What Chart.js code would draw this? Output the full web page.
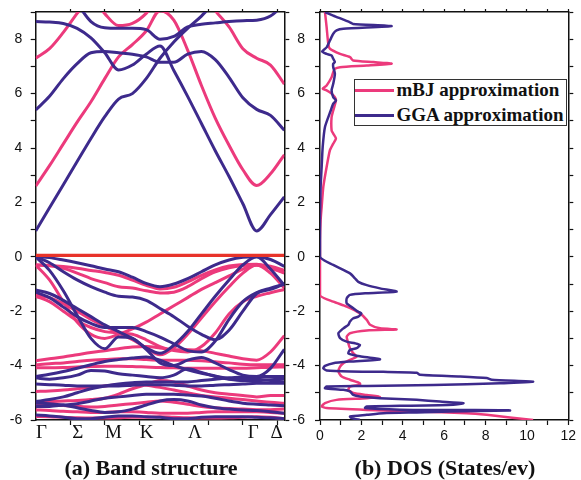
<!DOCTYPE html>
<html>
<head>
<meta charset="utf-8">
<title>Band structure and DOS</title>
<script src="https://cdn.jsdelivr.net/npm/chart.js@4.4.1/dist/chart.umd.min.js"></script>
<style>
  body { margin: 0; background: #fff; }
  #wrap { position: relative; width: 581px; height: 480px; overflow: hidden; background: #fff; }
  canvas { position: absolute; top: 0; }
  #bandCanvas { left: 0; }
  #dosCanvas { left: 290px; }
  .caption { position: absolute; top: 455px; font: bold 22px "Liberation Serif", "Times New Roman", serif;
             color: #111; text-align: center; white-space: nowrap; }
  #legend { position: absolute; left: 354px; top: 79px; width: 211px; height: 45px;
            border: 1.5px solid #333; background: #fff; z-index: 2; }
  #legend .row { position: absolute; left: 0; height: 24px; line-height: 24px; white-space: nowrap;
                 font: bold 19px "Liberation Serif", "Times New Roman", serif; color: #111; }
  #legend .swatch { position: absolute; left: 0; top: 10.5px; width: 39px; height: 3px; }
  #legend .txt { position: absolute; left: 41.5px; top: 0; }
</style>
</head>
<body>
<div id="wrap">
  <canvas id="bandCanvas" width="290" height="480"></canvas>
  <canvas id="dosCanvas" width="291" height="480"></canvas>
  <div class="caption" style="left:1px;width:300px;">(a) Band structure</div>
  <div class="caption" style="left:345px;width:200px;">(b) DOS (States/ev)</div>
  <div id="legend">
    <div class="row" style="top:-1.5px;"><span class="swatch" style="background:#ec3a7c"></span><span class="txt">mBJ approximation</span></div>
    <div class="row" style="top:23.5px;"><span class="swatch" style="background:#3d2a8c"></span><span class="txt">GGA approximation</span></div>
  </div>
</div>
<script>
// k path sampling (arbitrary path units) and the symmetry points
var kPath = [0, 0.4, 0.8, 1.2, 1.6, 2.0, 2.4, 2.8, 3.2, 3.6, 4.0, 4.4, 4.8, 5.2, 5.6, 6.0, 6.4, 6.8, 7.2];
var kTicks = [1, 2, 3, 4, 5, 6, 7];
var symLabels = ['Γ', 'Σ', 'M', 'K', 'Λ', 'Γ', 'Δ'];
var symPos = [0.17, 1.22, 2.25, 3.21, 4.61, 6.30, 6.98];

var fermiLevel = 0.05;

// GGA bands (eV), one value per kPath point
var ggaBands = [
  [0.95, 1.8, 2.65, 3.5, 4.35, 5.15, 5.8, 6.0, 6.55, 7.3, 7.9, 8.4, 8.85, 9.4, 10.0, 10.5, 11.0, 11.0, 11.0],
  [8.65, 8.63, 8.58, 8.4, 8.05, 7.5, 6.87, 7.05, 7.45, 7.75, 6.85, 5.9, 4.9, 3.9, 2.95, 1.95, 0.95, 1.55, 2.2],
  [5.4, 5.9, 6.55, 7.1, 7.5, 7.55, 7.5, 7.45, 7.35, 7.15, 7.15, 7.45, 7.55, 7.25, 6.6, 5.85, 5.42, 5.2, 4.65],
  [10.0, 10.0, 9.8, 9.3, 8.65, 8.42, 8.4, 8.4, 8.35, 8.0, 8.1, 8.45, 8.55, 8.6, 8.65, 8.68, 8.7, 8.85, 9.3],
  [0.02, -0.03, -0.12, -0.22, -0.33, -0.45, -0.55, -0.75, -0.98, -1.1, -1.0, -0.8, -0.55, -0.3, -0.12, -0.02, 0.0, -0.1, -0.35],
  [0.0, -0.22, -0.55, -0.85, -1.1, -1.3, -1.45, -1.48, -1.6, -1.9, -2.2, -2.55, -2.85, -3.05, -2.7, -2.0, -1.35, -1.2, -1.0],
  [0.0, -0.5, -1.25, -2.15, -3.0, -3.38, -2.95, -3.0, -3.4, -3.9, -4.0, -3.8, -3.7, -3.9, -4.15, -4.35, -4.4, -4.1, -3.4],
  [-1.22, -1.35, -1.6, -1.9, -2.2, -2.5, -2.75, -3.0, -3.35, -3.55, -3.25, -2.75, -2.1, -1.45, -0.85, -0.3, 0.0, -0.45, -1.05],
  [-1.3, -1.5, -1.85, -2.2, -2.45, -2.6, -2.6, -2.6, -2.75, -2.95, -3.2, -3.45, -3.5, -3.1, -2.3, -1.65, -1.32, -1.15, -1.0],
  [-4.4, -4.32, -4.22, -4.1, -3.97, -3.85, -3.78, -3.72, -3.68, -3.8, -4.0, -4.15, -4.28, -4.38, -4.48, -4.5, -4.5, -4.55, -4.6],
  [-4.45, -4.5, -4.45, -4.35, -4.18, -4.2, -4.3, -4.35, -4.4, -4.45, -4.35, -4.12, -4.25, -4.4, -4.5, -4.55, -4.55, -4.52, -4.48],
  [-5.32, -5.25, -5.15, -5.0, -4.85, -4.75, -4.68, -4.63, -4.6, -4.6, -4.6, -4.6, -4.55, -4.5, -4.45, -4.42, -4.4, -4.4, -4.4],
  [-4.68, -4.7, -4.72, -4.75, -4.75, -4.75, -4.75, -4.72, -4.7, -4.7, -4.72, -4.75, -4.75, -4.72, -4.7, -4.68, -4.65, -4.65, -4.65],
  [-5.38, -5.4, -5.45, -5.55, -5.65, -5.72, -5.7, -5.6, -5.45, -5.3, -5.25, -5.3, -5.45, -5.55, -5.6, -5.63, -5.65, -5.7, -5.75],
  [-5.5, -5.5, -5.45, -5.4, -5.3, -5.2, -5.15, -5.1, -5.05, -5.05, -5.05, -5.08, -5.12, -5.2, -5.3, -5.38, -5.42, -5.45, -5.48],
  [-5.82, -5.85, -5.9, -5.95, -5.95, -5.9, -5.85, -5.85, -5.88, -5.9, -5.95, -5.95, -5.9, -5.88, -5.88, -5.88, -5.9, -5.92, -5.95]
];

// mBJ bands (eV)
var mbjBands = [
  [2.6, 3.35, 4.15, 4.95, 5.7, 6.55, 7.35, 7.8, 8.3, 9.05, 8.7, 7.6, 6.3, 5.1, 4.1, 3.2, 2.62, 3.05, 3.75],
  [7.3, 7.65, 8.25, 8.95, 9.6, 10.2, 10.5, 10.5, 10.5, 10.5, 10.5, 10.3, 9.8, 9.05, 8.45, 7.65, 7.3, 7.05, 6.35],
  [11.0, 11.0, 10.5, 10.0, 9.6, 8.94, 8.5, 8.58, 8.95, 9.6, 10.2, 11.0, 11.0, 11.0, 11.0, 11.0, 11.0, 11.0, 11.0],
  [-0.3, -0.33, -0.42, -0.6, -0.8, -0.95, -1.1, -1.15, -1.25, -1.33, -1.3, -1.1, -0.8, -0.55, -0.4, -0.32, -0.3, -0.35, -0.5],
  [-0.3, -0.32, -0.36, -0.42, -0.5, -0.58, -0.68, -0.86, -1.05, -1.18, -1.12, -0.92, -0.68, -0.48, -0.34, -0.28, -0.27, -0.4, -0.58],
  [-0.3, -0.85, -1.65, -2.4, -2.85, -3.0, -2.85, -2.65, -2.4, -2.1, -1.8, -1.5, -1.2, -0.95, -0.7, -0.45, -0.3, -0.42, -0.6],
  [-1.4, -1.5, -1.72, -2.0, -2.3, -2.55, -2.8, -3.05, -3.35, -3.6, -3.35, -2.85, -2.25, -1.65, -1.1, -0.6, -0.3, -0.6, -1.15],
  [-1.45, -1.65, -2.0, -2.35, -2.6, -2.75, -2.8, -2.85, -3.05, -3.3, -3.45, -3.5, -3.3, -2.8, -2.1, -1.65, -1.45, -1.32, -1.2],
  [-3.82, -3.75, -3.68, -3.6, -3.52, -3.45, -3.38, -3.32, -3.3, -3.35, -3.42, -3.42, -3.45, -3.55, -3.65, -3.75, -3.8, -3.5, -2.9],
  [-3.97, -3.93, -3.9, -3.85, -3.8, -3.78, -3.75, -3.75, -3.78, -3.8, -3.8, -3.8, -3.82, -3.86, -3.9, -3.95, -3.97, -3.97, -3.97],
  [-4.08, -4.08, -4.07, -4.05, -4.03, -4.02, -4.02, -4.03, -4.05, -4.07, -4.08, -4.1, -4.1, -4.1, -4.1, -4.1, -4.08, -4.06, -4.05],
  [-4.95, -4.93, -4.9, -4.85, -4.8, -4.75, -4.7, -4.68, -4.72, -4.8, -4.9, -5.0, -5.1, -5.15, -5.2, -5.25, -5.3, -5.35, -5.38],
  [-5.32, -5.32, -5.3, -5.28, -5.25, -5.2, -5.05, -4.85, -4.7, -4.55, -4.6, -4.75, -4.9, -5.0, -5.05, -5.1, -5.15, -5.1, -5.1],
  [-5.44, -5.45, -5.47, -5.5, -5.52, -5.5, -5.45, -5.4, -5.35, -5.3, -5.35, -5.42, -5.5, -5.55, -5.58, -5.6, -5.62, -5.62, -5.6],
  [-5.63, -5.65, -5.68, -5.7, -5.72, -5.72, -5.7, -5.7, -5.72, -5.75, -5.75, -5.75, -5.72, -5.7, -5.7, -5.7, -5.7, -5.72, -5.75],
  [-5.87, -5.88, -5.9, -5.92, -5.93, -5.93, -5.92, -5.9, -5.9, -5.88, -5.9, -5.92, -5.93, -5.93, -5.92, -5.9, -5.88, -5.9, -5.95]
];

// DOS curves: energy (eV) and states/eV, read top to bottom
var ggaDosE = [
  9.0, 8.87, 8.62, 8.56, 8.48, 8.38, 8.32, 8.2, 7.95, 7.7,
  7.55, 7.46, 7.4, 7.28, 7.16, 7.1, 6.97, 6.73, 6.36, 6.12,
  5.87, 5.75, 5.63, 5.38, 4.77, 4.04, 3.3, 2.57, 1.47, 0.0,
  -0.3, -0.61, -0.79, -0.92, -1.04, -1.16, -1.28, -1.34, -1.4, -1.53,
  -1.71, -1.89, -2.02, -2.08, -2.2, -2.26, -2.38, -2.5, -2.63, -2.81,
  -2.99, -3.12, -3.18, -3.24, -3.36, -3.42, -3.55, -3.61, -3.66, -3.77,
  -3.85, -3.91, -4.01, -4.1, -4.18, -4.22, -4.23, -4.26, -4.34, -4.4,
  -4.46, -4.52, -4.59, -4.65, -4.71, -4.75, -4.77, -4.83, -4.89, -4.95,
  -5.08, -5.14, -5.2, -5.26, -5.32, -5.38, -5.44, -5.48, -5.5, -5.56,
  -5.62, -5.63, -5.64, -5.65, -5.69, -5.72, -5.75, -5.81, -5.87, -5.93,
  -6.0
];
var ggaDos = [
  0.24, 0.64, 1.45, 1.6, 3.46, 1.13, 0.8, 0.64, 0.48, 0.32,
  0.1, 0.32, 0.56, 0.64, 0.72, 0.64, 0.64, 0.72, 0.64, 0.56,
  0.64, 0.77, 0.64, 0.52, 0.24, 0.13, 0.08, 0.03, 0.0, 0.0,
  0.64, 1.45, 1.69, 1.85, 2.26, 2.9, 3.7, 2.26, 1.45, 1.29,
  1.29, 1.61, 1.85, 2.0, 1.85, 1.61, 1.45, 1.37, 1.13, 0.89,
  0.97, 1.29, 1.69, 1.93, 1.77, 1.45, 1.37, 1.61, 1.93, 2.9,
  1.45, 0.64, 0.24, 0.16, 0.32, 1.45, 3.06, 4.67, 4.83, 6.77,
  8.06, 8.3, 10.3, 8.7, 5.48, 2.26, 0.32, 0.24, 1.13, 1.45,
  1.61, 1.93, 2.9, 4.67, 5.8, 6.93, 6.44, 3.87, 2.26, 2.18,
  3.87, 6.28, 8.7, 9.18, 6.28, 4.67, 3.06, 2.26, 1.45, 1.53,
  1.93
];
var mbjDosE = [
  9.0, 8.44, 7.83, 7.65, 7.46, 7.34, 7.22, 7.16, 7.1, 7.03,
  6.97, 6.91, 6.79, 6.6, 6.3, 6.18, 6.12, 6.0, 5.87, 5.75,
  5.38, 5.14, 4.65, 4.53, 4.35, 4.16, 3.92, 3.3, 2.57, 1.83,
  1.35, 0.6, -1.41, -1.65, -1.83, -2.08, -2.32, -2.5, -2.63, -2.67,
  -2.71, -2.81, -2.94, -3.18, -3.36, -3.55, -3.67, -3.79, -3.91, -4.04,
  -4.22, -4.4, -4.52, -4.65, -4.71, -4.77, -4.89, -5.01, -5.08, -5.14,
  -5.2, -5.26, -5.38, -5.5, -5.56, -5.63, -5.69, -5.75, -5.81, -6.0
];
var mbjDos = [
  0.24, 0.32, 0.4, 0.48, 0.97, 1.45, 1.6, 2.58, 3.46, 2.26,
  0.97, 0.72, 0.64, 0.56, 0.32, 0.13, 0.32, 0.56, 0.72, 0.77,
  0.64, 0.56, 0.56, 0.64, 0.77, 0.64, 0.48, 0.32, 0.16, 0.08,
  0.03, 0.0, 0.0, 0.64, 1.29, 1.93, 2.26, 2.42, 2.9, 3.7,
  2.26, 1.45, 1.29, 1.37, 1.45, 1.61, 1.77, 1.45, 1.13, 0.97,
  0.89, 1.05, 1.45, 1.93, 1.93, 1.45, 1.37, 1.61, 2.26, 2.9,
  2.26, 0.8, 0.24, 0.08, 0.32, 2.26, 4.67, 7.09, 8.06, 10.3
];

var GGA_COLOR = '#3d2a8c';
var MBJ_COLOR = '#ec3a7c';
var FERMI_COLOR = '#e8332a';
var SANS = '"Liberation Sans", Arial, sans-serif';
var SERIF = '"Liberation Serif", "Times New Roman", serif';

Chart.defaults.font.family = SANS;
Chart.defaults.color = '#111';

function bandDatasets(bands, color) {
    return bands.map(function(band) {
        return {
            data: kPath.map(function(k, i) { return {x: k, y: band[i]}; }),
            borderColor: color,
            borderWidth: 3,
            pointRadius: 0,
            cubicInterpolationMode: 'monotone',
            clip: 0,
            fill: false
        };
    });
}

function dosDataset(energy, dos, color) {
    return {
        data: energy.map(function(e, i) { return {x: dos[i], y: e}; }),
        borderColor: color,
        borderWidth: 2.5,
        pointRadius: 0,
        tension: 0.2,
        fill: false
    };
}

// shared frame axis pieces (no grid inside, outward ticks)
function frameGrid(len) {
    return { drawOnChartArea: false, tickLength: len, tickColor: '#111', tickWidth: 1.2 };
}
var frameBorder = { display: true, color: '#111', width: 1.5 };

function energyAxis(position, width, showLabels, pad) {
    return {
        type: 'linear', position: position, min: -6, max: 9,
        grid: frameGrid(5), border: frameBorder,
        ticks: {
            display: showLabels, stepSize: 1, autoSkip: false, padding: pad,
            font: { size: 14 },
            callback: function(v) { return v % 2 === 0 ? v : ''; }
        },
        afterFit: function(scale) {
            scale.width = width;
            // labels must not push the plot frame down
            scale.paddingTop = 0;
            scale.paddingBottom = 0;
        }
    };
}

var commonOptions = {
    responsive: false,
    animation: false,
    devicePixelRatio: 1,
    plugins: { legend: { display: false }, tooltip: { enabled: false } },
    events: []
};

// band structure panel
var bandSets = [{
    data: [{x: 0, y: fermiLevel}, {x: 7.2, y: fermiLevel}],
    borderColor: FERMI_COLOR, borderWidth: 3.2, pointRadius: 0, clip: 0
}].concat(bandDatasets(ggaBands, GGA_COLOR), bandDatasets(mbjBands, MBJ_COLOR));

new Chart(document.getElementById('bandCanvas'), {
    type: 'line',
    data: { datasets: bandSets },
    options: Object.assign({}, commonOptions, {
        layout: { autoPadding: false, padding: { top: 7, right: 0, bottom: 0, left: 0 } },
        scales: {
            x: {
                type: 'linear', position: 'bottom', min: 0, max: 7.2,
                border: frameBorder,
                grid: {
                    drawOnChartArea: false, tickLength: 5, tickWidth: 1.2,
                    // symmetry labels carry no tick mark
                    tickColor: function(ctx) { return ctx.tick && ctx.tick.sym ? 'rgba(0,0,0,0)' : '#111'; }
                },
                afterBuildTicks: function(scale) {
                    var ticks = kTicks.map(function(v) { return {value: v}; });
                    symPos.forEach(function(v, i) { ticks.push({value: v, sym: symLabels[i]}); });
                    ticks.sort(function(a, b) { return a.value - b.value; });
                    scale.ticks = ticks;
                },
                ticks: {
                    autoSkip: false, maxRotation: 0, padding: -3,
                    font: { family: SERIF, size: 19 },
                    callback: function(v, i, ticks) { return ticks[i].sym || ''; }
                },
                afterFit: function(scale) { scale.height = 60; }
            },
            xTop: {
                type: 'linear', position: 'top', min: 0, max: 7.2,
                border: frameBorder, grid: frameGrid(3),
                afterBuildTicks: function(scale) {
                    scale.ticks = kTicks.map(function(v) { return {value: v}; });
                },
                ticks: { display: false },
                afterFit: function(scale) { scale.height = 5; }
            },
            y: energyAxis('left', 35.7, true, 8.5),
            y2: energyAxis('right', 5.7, false, 0)
        }
    })
});

// DOS panel
new Chart(document.getElementById('dosCanvas'), {
    type: 'line',
    data: {
        datasets: [
            dosDataset(ggaDosE, ggaDos, GGA_COLOR),
            dosDataset(mbjDosE, mbjDos, MBJ_COLOR)
        ]
    },
    options: Object.assign({}, commonOptions, {
        layout: { autoPadding: false, padding: { top: 7, right: 6.7, bottom: 0, left: 0 } },
        scales: {
            x: {
                type: 'linear', position: 'bottom', min: 0, max: 12,
                border: frameBorder, grid: frameGrid(5),
                ticks: {
                    stepSize: 1, autoSkip: false, maxRotation: 0, padding: 3,
                    font: { size: 14 },
                    callback: function(v) { return v % 2 === 0 ? v : ''; }
                },
                afterFit: function(scale) { scale.height = 60; }
            },
            xTop: {
                type: 'linear', position: 'top', min: 0, max: 12,
                border: frameBorder, grid: frameGrid(3),
                ticks: { display: false, stepSize: 1 },
                afterFit: function(scale) { scale.height = 5; }
            },
            y: energyAxis('left', 30, true, 10),
            y2: energyAxis('right', 6, false, 0)
        }
    })
});
</script>
</body>
</html>
